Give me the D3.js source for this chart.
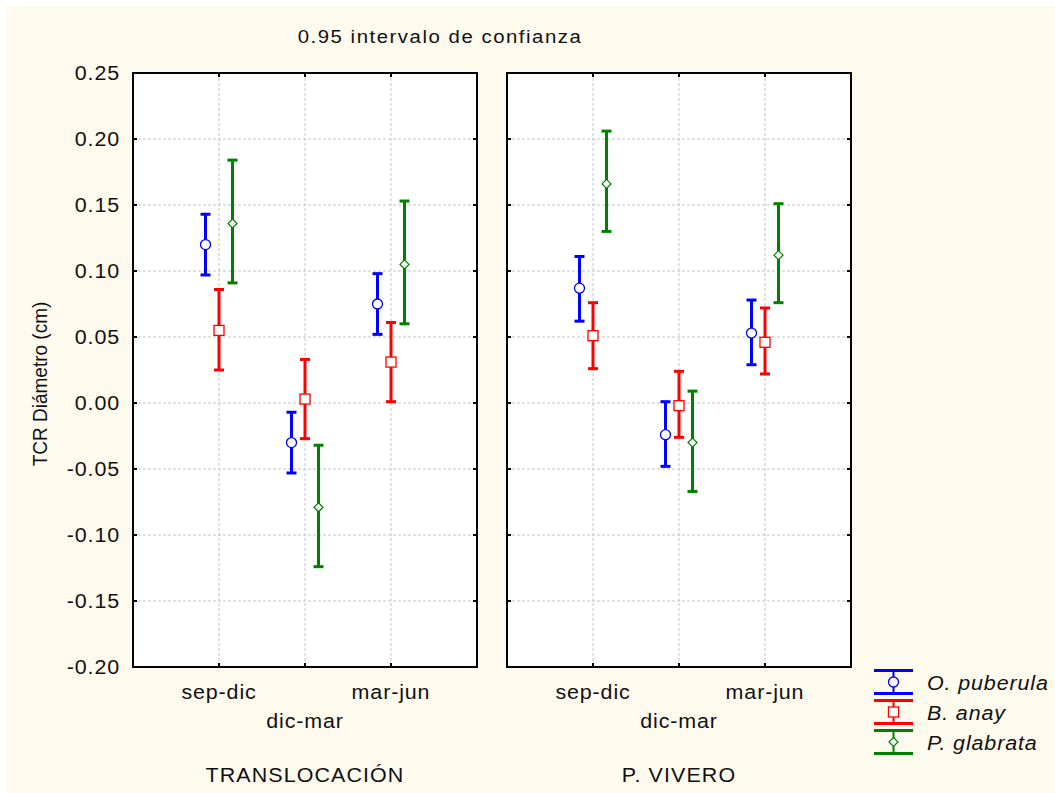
<!DOCTYPE html>
<html>
<head>
<meta charset="utf-8">
<script src="https://cdn.jsdelivr.net/npm/d3@7"></script>
<style>
  body { margin: 0; background: #ffffff; }
  svg text { font-family: "Liberation Sans", Arial, sans-serif; fill: #111; }
</style>
</head>
<body>
<div id="chart"></div>
<script>
// chart values
var categories = ["sep-dic", "dic-mar", "mar-jun"];
var panels = ["TRANSLOCACIÓN", "P. VIVERO"];
var series = ["O. puberula", "B. anay", "P. glabrata"];
var seriesColors = ["#0000ff", "#ff0000", "#008000"];
var seriesShapes = ["circle", "square", "diamond"];
var yTicks = [0.25, 0.20, 0.15, 0.10, 0.05, 0.00, -0.05, -0.10, -0.15, -0.20];

// means, per panel, per series, per category
var meanTransl = [
    [0.120, -0.030, 0.075],
    [0.055, 0.003, 0.031],
    [0.136, -0.079, 0.105]
];
var lowTransl = [
    [0.097, -0.053, 0.052],
    [0.025, -0.027, 0.001],
    [0.091, -0.124, 0.060]
];
var highTransl = [
    [0.143, -0.007, 0.098],
    [0.086, 0.033, 0.061],
    [0.184, -0.032, 0.153]
];
var meanVivero = [
    [0.087, -0.024, 0.053],
    [0.051, -0.002, 0.046],
    [0.166, -0.030, 0.112]
];
var lowVivero = [
    [0.062, -0.048, 0.029],
    [0.026, -0.026, 0.022],
    [0.130, -0.067, 0.076]
];
var highVivero = [
    [0.111, 0.001, 0.078],
    [0.076, 0.024, 0.072],
    [0.206, 0.009, 0.151]
];

var panelData = [
    { name: panels[0], mean: meanTransl, low: lowTransl, high: highTransl },
    { name: panels[1], mean: meanVivero, low: lowVivero, high: highVivero }
];

var W = 1055, H = 793;
var panelLeft = [133, 507], panelW = 344;
var plotTop = 73, plotBottom = 667;
var stretch = 1.1;   // the original text is a little wider than the font

var svg = d3.select("#chart").append("svg")
    .attr("width", W)
    .attr("height", H);

// cream background
svg.append("rect")
    .attr("x", 6).attr("y", 6)
    .attr("width", W - 6).attr("height", H - 6)
    .attr("fill", "#fffaee");

var y = d3.scaleLinear().domain([-0.20, 0.25]).range([plotBottom, plotTop]);
var offset = d3.scalePoint().domain(series).range([-13.5, 13.5]);
var fmt = function(d) { return d3.format(".2f")(d).replace("\u2212", "-"); };

function label(parent, x, yy, txt, anchor, size, spacing) {
    return parent.append("text")
        .attr("transform", "translate(" + x + "," + yy + ") scale(" + stretch + ",1)")
        .attr("text-anchor", anchor)
        .style("font-size", size + "px")
        .style("letter-spacing", spacing + "px")
        .text(txt);
}

function marker(g, shape, color, cx, cy) {
    if (shape === "circle") {
        g.append("circle").attr("cx", cx).attr("cy", cy).attr("r", 5)
            .attr("fill", "#fff").attr("stroke", color).attr("stroke-width", 1.3);
    } else if (shape === "square") {
        g.append("rect").attr("x", cx - 5).attr("y", cy - 5).attr("width", 10).attr("height", 10)
            .attr("fill", "#fff").attr("stroke", color).attr("stroke-width", 1.3);
    } else {
        g.append("path")
            .attr("d", "M" + cx + "," + (cy - 4.5) + "L" + (cx + 4.5) + "," + cy +
                "L" + cx + "," + (cy + 4.5) + "L" + (cx - 4.5) + "," + cy + "Z")
            .attr("fill", "#fff").attr("stroke", color).attr("stroke-width", 1.2);
    }
}

panelData.forEach(function(p, pi) {
    var x0 = panelLeft[pi], x1 = x0 + panelW;
    var x = d3.scalePoint().domain(categories).range([x0, x1]).padding(1);
    var g = svg.append("g");

    g.append("rect")
        .attr("x", x0).attr("y", plotTop)
        .attr("width", panelW).attr("height", plotBottom - plotTop)
        .attr("fill", "#fff");

    // grid
    g.selectAll(".hgrid")
        .data(yTicks.slice(1, -1))
        .enter().append("line")
        .attr("x1", x0).attr("x2", x1)
        .attr("y1", function(d) { return y(d); })
        .attr("y2", function(d) { return y(d); })
        .attr("stroke", "#c4c4c4").attr("stroke-dasharray", "3,2");
    g.selectAll(".vgrid")
        .data(categories)
        .enter().append("line")
        .attr("x1", function(d) { return x(d); })
        .attr("x2", function(d) { return x(d); })
        .attr("y1", plotTop).attr("y2", plotBottom)
        .attr("stroke", "#c4c4c4").attr("stroke-dasharray", "3,2");

    // inward ticks
    var ticks = g.append("g").attr("stroke", "#000").attr("stroke-width", 2);
    yTicks.forEach(function(t) {
        ticks.append("line").attr("x1", x0).attr("x2", x0 + 4).attr("y1", y(t)).attr("y2", y(t));
        ticks.append("line").attr("x1", x1 - 4).attr("x2", x1).attr("y1", y(t)).attr("y2", y(t));
    });
    categories.forEach(function(c) {
        ticks.append("line").attr("x1", x(c)).attr("x2", x(c)).attr("y1", plotTop).attr("y2", plotTop + 4);
        ticks.append("line").attr("x1", x(c)).attr("x2", x(c)).attr("y1", plotBottom - 4).attr("y2", plotBottom);
    });

    // error bars
    series.forEach(function(s, si) {
        var color = seriesColors[si];
        categories.forEach(function(c, ci) {
            var cx = x(c) + offset(s);
            var bar = g.append("g").attr("stroke", color).attr("stroke-width", 3);
            bar.append("line").attr("x1", cx).attr("x2", cx)
                .attr("y1", y(p.high[si][ci])).attr("y2", y(p.low[si][ci]));
            [p.high[si][ci], p.low[si][ci]].forEach(function(v) {
                bar.append("line").attr("x1", cx - 5).attr("x2", cx + 5)
                    .attr("y1", y(v)).attr("y2", y(v));
            });
            marker(g, seriesShapes[si], color, cx, y(p.mean[si][ci]));
        });
    });

    // frame
    g.append("rect")
        .attr("x", x0).attr("y", plotTop)
        .attr("width", panelW).attr("height", plotBottom - plotTop)
        .attr("fill", "none").attr("stroke", "#000").attr("stroke-width", 2);

    // category labels (staggered)
    categories.forEach(function(c, i) {
        label(g, x(c), i === 1 ? 728 : 699, c, "middle", 19.5, 0.8);
    });

    label(g, (x0 + x1) / 2, 782, p.name, "middle", 19.5, 1.0);
});

// y tick labels
yTicks.forEach(function(t) {
    label(svg, 120, y(t) + 7, fmt(t), "end", 19.5, 0.8);
});

// y axis title
svg.append("text")
    .attr("transform", "translate(47,384) rotate(-90) scale(1," + stretch + ")")
    .attr("text-anchor", "middle")
    .style("font-size", "19px")
    .text("TCR Diámetro (cm)");

// title
label(svg, 440, 43, "0.95 intervalo de confianza", "middle", 18.5, 1.4);

// legend
var legend = svg.append("g").attr("class", "legend");
series.forEach(function(s, i) {
    var ly = 670.5 + i * 30;
    var color = seriesColors[i];
    var lg = legend.append("g").attr("stroke", color).attr("stroke-width", 3);
    lg.append("line").attr("x1", 874).attr("x2", 913).attr("y1", ly).attr("y2", ly);
    lg.append("line").attr("x1", 874).attr("x2", 913).attr("y1", ly + 23).attr("y2", ly + 23);
    lg.append("line").attr("x1", 893.5).attr("x2", 893.5).attr("y1", ly).attr("y2", ly + 23)
        .attr("stroke-width", 2);
    marker(legend, seriesShapes[i], color, 893.5, ly + 11.5);
    label(legend, 927, ly + 19, s, "start", 19.5, 0.8)
        .style("font-style", "italic");
});
</script>
</body>
</html>
